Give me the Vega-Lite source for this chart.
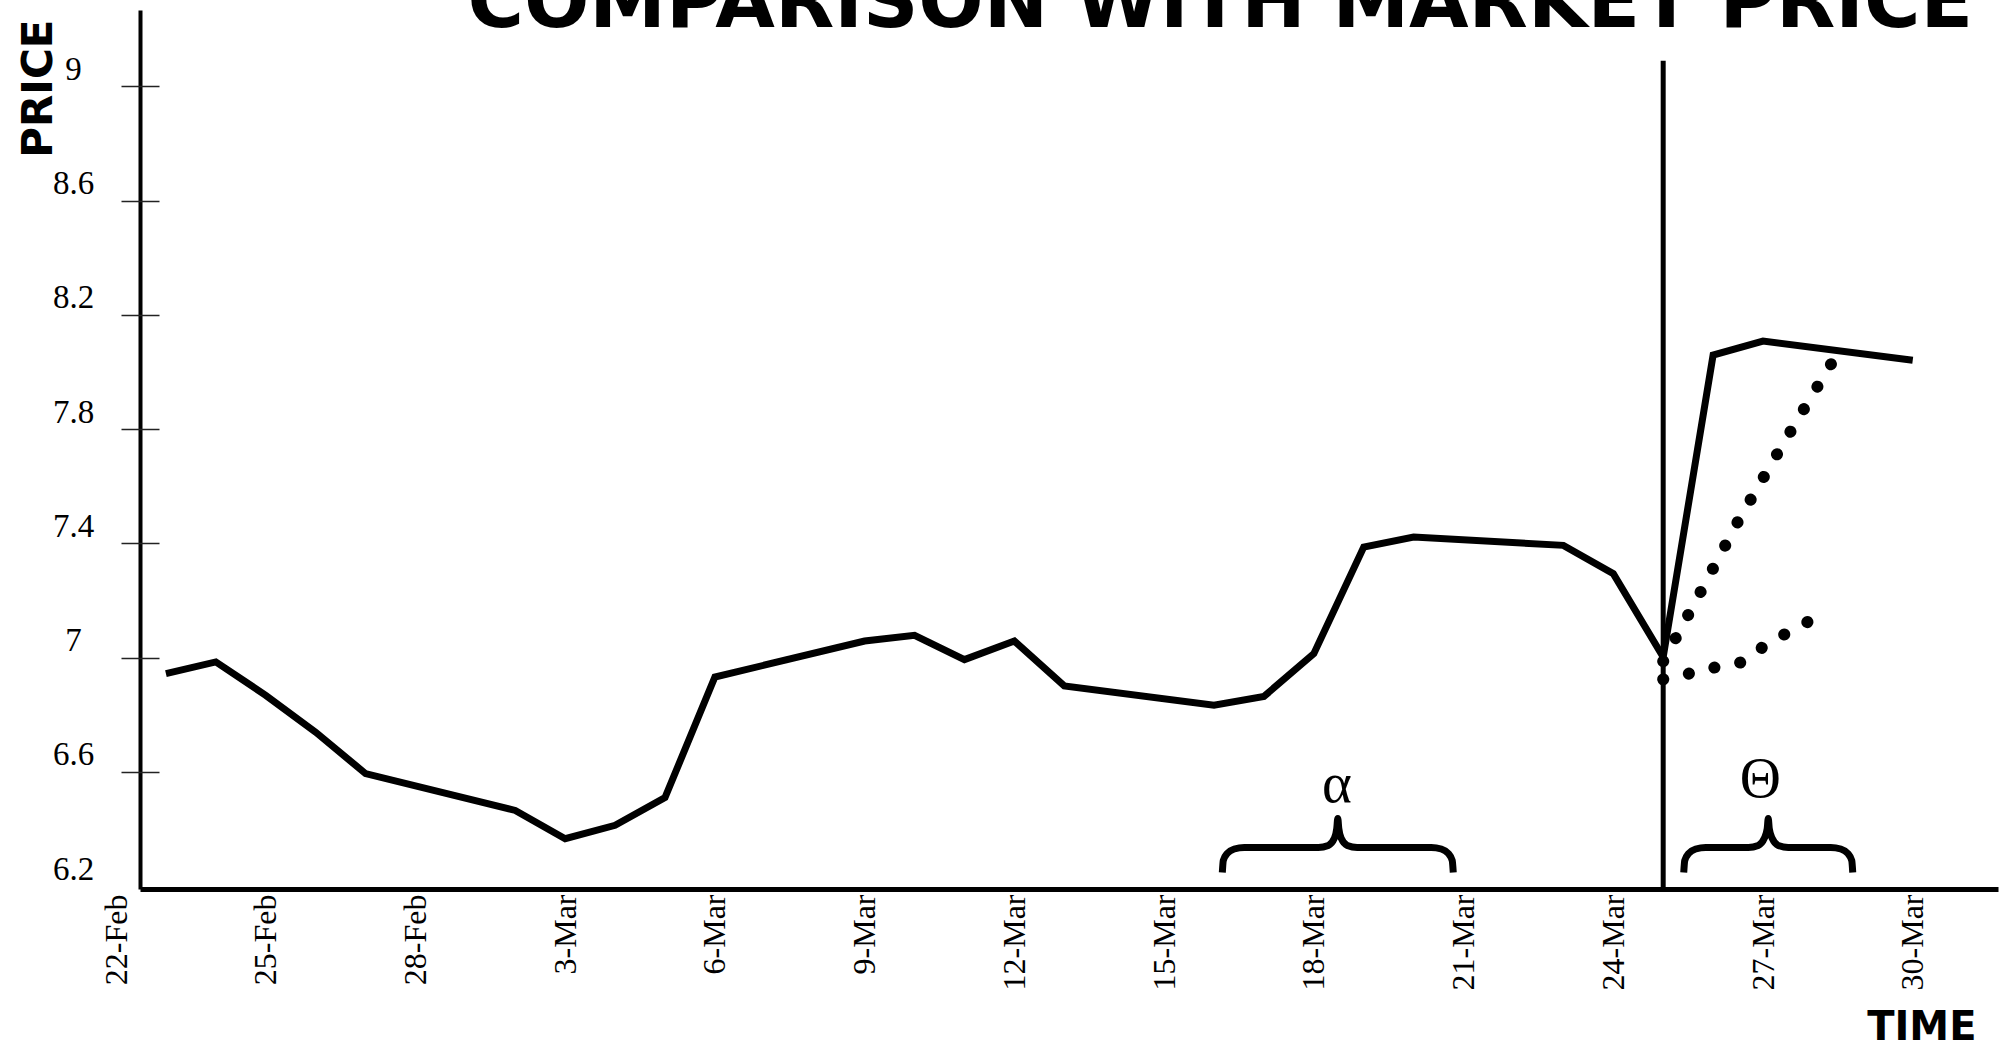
{
  "$schema": "https://vega.github.io/schema/vega-lite/v6.json",
  "width": 1882,
  "height": 879,
  "autosize": "none",
  "padding": {"left": 116, "top": 10, "right": 4, "bottom": 159},
  "background": "white",
  "config": {"view": {"stroke": null}, "axis": {"grid": false}},
  "title": {"text": "COMPARISON WITH MARKET PRICE", "anchor": "end", "frame": "group", "orient": "top", "offset": 0, "dx": -25, "dy": 94, "baseline": "alphabetic", "font": "DejaVu Sans", "fontWeight": "bold", "fontSize": 77, "color": "black"},
  "datasets": {
    "price": [
      {"date": "2009-02-23", "price": 6.944},
      {"date": "2009-02-24", "price": 6.985},
      {"date": "2009-02-25", "price": 6.868},
      {"date": "2009-02-26", "price": 6.739},
      {"date": "2009-02-27", "price": 6.594},
      {"date": "2009-03-02", "price": 6.465},
      {"date": "2009-03-03", "price": 6.366},
      {"date": "2009-03-04", "price": 6.413},
      {"date": "2009-03-05", "price": 6.51},
      {"date": "2009-03-06", "price": 6.932},
      {"date": "2009-03-09", "price": 7.058},
      {"date": "2009-03-10", "price": 7.078},
      {"date": "2009-03-11", "price": 6.993},
      {"date": "2009-03-12", "price": 7.058},
      {"date": "2009-03-13", "price": 6.901},
      {"date": "2009-03-16", "price": 6.833},
      {"date": "2009-03-17", "price": 6.864},
      {"date": "2009-03-18", "price": 7.014},
      {"date": "2009-03-19", "price": 7.387},
      {"date": "2009-03-20", "price": 7.422},
      {"date": "2009-03-23", "price": 7.393},
      {"date": "2009-03-24", "price": 7.294},
      {"date": "2009-03-25", "price": 7.002},
      {"date": "2009-03-26", "price": 8.059},
      {"date": "2009-03-27", "price": 8.108},
      {"date": "2009-03-30", "price": 8.041}
    ],
    "forecast": [
      {"series": "upper", "ord": 1, "date": "2009-03-25T00:00:00Z", "price": 6.987},
      {"series": "upper", "ord": 2, "date": "2009-03-25T18:00:00Z", "price": 7.23},
      {"series": "upper", "ord": 3, "date": "2009-03-26T12:00:00Z", "price": 7.477},
      {"series": "upper", "ord": 4, "date": "2009-03-27T06:00:00Z", "price": 7.703},
      {"series": "upper", "ord": 5, "date": "2009-03-27T20:00:00Z", "price": 7.874},
      {"series": "upper", "ord": 6, "date": "2009-03-28T08:40:00Z", "price": 8.027},
      {"series": "lower", "ord": 1, "date": "2009-03-25T00:00:00Z", "price": 6.924},
      {"series": "lower", "ord": 2, "date": "2009-03-25T13:00:00Z", "price": 6.945},
      {"series": "lower", "ord": 3, "date": "2009-03-26T01:00:00Z", "price": 6.966},
      {"series": "lower", "ord": 4, "date": "2009-03-26T14:00:00Z", "price": 6.984},
      {"series": "lower", "ord": 5, "date": "2009-03-27T02:00:00Z", "price": 7.048},
      {"series": "lower", "ord": 6, "date": "2009-03-27T14:00:00Z", "price": 7.096},
      {"series": "lower", "ord": 7, "date": "2009-03-28T01:40:00Z", "price": 7.141}
    ],
    "braces": [
      {"brace": "alpha", "ord": 1, "date": "2009-03-16T04:00:00Z", "price": 6.248},
      {"brace": "alpha", "ord": 2, "date": "2009-03-16T04:28:00Z", "price": 6.29},
      {"brace": "alpha", "ord": 3, "date": "2009-03-16T06:23:00Z", "price": 6.3145},
      {"brace": "alpha", "ord": 4, "date": "2009-03-16T09:45:00Z", "price": 6.33},
      {"brace": "alpha", "ord": 5, "date": "2009-03-16T14:34:00Z", "price": 6.3356},
      {"brace": "alpha", "ord": 6, "date": "2009-03-18T02:08:00Z", "price": 6.3356},
      {"brace": "alpha", "ord": 7, "date": "2009-03-18T06:58:00Z", "price": 6.3426},
      {"brace": "alpha", "ord": 8, "date": "2009-03-18T09:50:00Z", "price": 6.367},
      {"brace": "alpha", "ord": 9, "date": "2009-03-18T11:02:00Z", "price": 6.402},
      {"brace": "alpha", "ord": 10, "date": "2009-03-18T11:31:00Z", "price": 6.437},
      {"brace": "alpha", "ord": 11, "date": "2009-03-18T12:00:00Z", "price": 6.402},
      {"brace": "alpha", "ord": 12, "date": "2009-03-18T13:12:00Z", "price": 6.367},
      {"brace": "alpha", "ord": 13, "date": "2009-03-18T16:05:00Z", "price": 6.3426},
      {"brace": "alpha", "ord": 14, "date": "2009-03-18T20:53:00Z", "price": 6.3356},
      {"brace": "alpha", "ord": 15, "date": "2009-03-20T08:28:00Z", "price": 6.3356},
      {"brace": "alpha", "ord": 16, "date": "2009-03-20T13:16:00Z", "price": 6.33},
      {"brace": "alpha", "ord": 17, "date": "2009-03-20T16:38:00Z", "price": 6.3145},
      {"brace": "alpha", "ord": 18, "date": "2009-03-20T18:33:00Z", "price": 6.29},
      {"brace": "alpha", "ord": 19, "date": "2009-03-20T19:03:00Z", "price": 6.248},
      {"brace": "theta", "ord": 1, "date": "2009-03-25T09:53:00Z", "price": 6.248},
      {"brace": "theta", "ord": 2, "date": "2009-03-25T10:22:00Z", "price": 6.29},
      {"brace": "theta", "ord": 3, "date": "2009-03-25T12:17:00Z", "price": 6.3145},
      {"brace": "theta", "ord": 4, "date": "2009-03-25T15:40:00Z", "price": 6.33},
      {"brace": "theta", "ord": 5, "date": "2009-03-25T20:28:00Z", "price": 6.3356},
      {"brace": "theta", "ord": 6, "date": "2009-03-26T16:55:00Z", "price": 6.3356},
      {"brace": "theta", "ord": 7, "date": "2009-03-26T21:43:00Z", "price": 6.3426},
      {"brace": "theta", "ord": 8, "date": "2009-03-27T00:36:00Z", "price": 6.367},
      {"brace": "theta", "ord": 9, "date": "2009-03-27T02:02:00Z", "price": 6.402},
      {"brace": "theta", "ord": 10, "date": "2009-03-27T02:31:00Z", "price": 6.437},
      {"brace": "theta", "ord": 11, "date": "2009-03-27T03:00:00Z", "price": 6.402},
      {"brace": "theta", "ord": 12, "date": "2009-03-27T04:26:00Z", "price": 6.367},
      {"brace": "theta", "ord": 13, "date": "2009-03-27T07:19:00Z", "price": 6.3426},
      {"brace": "theta", "ord": 14, "date": "2009-03-27T12:09:00Z", "price": 6.3356},
      {"brace": "theta", "ord": 15, "date": "2009-03-28T08:34:00Z", "price": 6.3356},
      {"brace": "theta", "ord": 16, "date": "2009-03-28T13:23:00Z", "price": 6.33},
      {"brace": "theta", "ord": 17, "date": "2009-03-28T16:45:00Z", "price": 6.3145},
      {"brace": "theta", "ord": 18, "date": "2009-03-28T18:40:00Z", "price": 6.29},
      {"brace": "theta", "ord": 19, "date": "2009-03-28T19:09:00Z", "price": 6.248}
    ],
    "labels": [
      {"label": "α", "date": "2009-03-18T11:08:00Z", "price": 6.494},
      {"label": "Θ", "date": "2009-03-26T22:41:00Z", "price": 6.512}
    ],
    "divider": [
      {"date": "2009-03-25", "low": 6.19, "high": 9.089}
    ]
  },
  "resolve": {"scale": {"y": "independent"}},
  "layer": [
    {
      "layer": [
        {
          "data": {"name": "price"},
          "mark": {"type": "line", "color": "black", "strokeWidth": 7, "strokeJoin": "miter", "strokeCap": "butt"},
          "encoding": {
            "x": {
              "field": "date", "type": "temporal",
              "scale": {"type": "utc", "domain": [{"year": 2009, "month": 2, "date": 22, "utc": true}, {"year": 2009, "month": 3, "date": 31, "hours": 17, "utc": true}]},
              "axis": {
                "title": "TIME",
                "values": [
                  {"year": 2009, "month": 2, "date": 22, "utc": true},
                  {"year": 2009, "month": 2, "date": 25, "utc": true},
                  {"year": 2009, "month": 2, "date": 28, "utc": true},
                  {"year": 2009, "month": 3, "date": 3, "utc": true},
                  {"year": 2009, "month": 3, "date": 6, "utc": true},
                  {"year": 2009, "month": 3, "date": 9, "utc": true},
                  {"year": 2009, "month": 3, "date": 12, "utc": true},
                  {"year": 2009, "month": 3, "date": 15, "utc": true},
                  {"year": 2009, "month": 3, "date": 18, "utc": true},
                  {"year": 2009, "month": 3, "date": 21, "utc": true},
                  {"year": 2009, "month": 3, "date": 24, "utc": true},
                  {"year": 2009, "month": 3, "date": 27, "utc": true},
                  {"year": 2009, "month": 3, "date": 30, "utc": true}
                ],
                "format": "%-d-%b",
                "labelAngle": -90,
                "labelFont": "Liberation Serif",
                "labelFontSize": 32,
                "labelColor": "black",
                "labelPadding": 5,
                "labelFlush": false,
                "labelOverlap": false,
                "labelBound": false,
                "ticks": false,
                "tickSize": 0,
                "domainColor": "black",
                "domainWidth": 5,
                "domainDash": [0, 24, 2000, 0],
                "titleFont": "DejaVu Sans",
                "titleFontWeight": "bold",
                "titleFontSize": 40,
                "titleColor": "black",
                "titleX": 1860,
                "titleY": 150,
                "titleAlign": "right",
                "titleBaseline": "alphabetic",
                "titleAngle": 0
              }
            },
            "y": {
              "field": "price", "type": "quantitative",
              "scale": {"domain": [6.19, 9.267], "nice": false, "zero": false},
              "axis": {
                "title": "PRICE",
                "orient": "left",
                "offset": -24,
                "values": [6.2, 6.6, 7, 7.4, 7.8, 8.2, 8.6, 9],
                "format": "~g",
                "ticks": false,
                "tickSize": 0,
                "labelFont": "Liberation Serif",
                "labelFontSize": 33,
                "labelColor": "black",
                "labelAlign": "center",
                "labelBaseline": "middle",
                "labelOffset": -17,
                "labelPadding": 67,
                "labelOverlap": false,
                "labelFlush": false,
                "labelBound": false,
                "domainColor": "black",
                "domainWidth": 4,
                "titleFont": "DejaVu Sans",
                "titleFontWeight": "bold",
                "titleFontSize": 42,
                "titleColor": "black",
                "titleAngle": 270,
                "titleX": -89,
                "titleY": 9,
                "titleAlign": "right",
                "titleBaseline": "alphabetic"
              }
            }
          }
        },
        {
          "data": {"name": "forecast"},
          "mark": {"type": "line", "color": "black", "strokeWidth": 12, "strokeCap": "round", "strokeDash": [0.1, 26.15]},
          "encoding": {
            "x": {"field": "date", "type": "temporal", "scale": {"type": "utc", "domain": [{"year": 2009, "month": 2, "date": 22, "utc": true}, {"year": 2009, "month": 3, "date": 31, "hours": 17, "utc": true}]}},
            "y": {"field": "price", "type": "quantitative", "scale": {"domain": [6.19, 9.267], "nice": false, "zero": false}},
            "detail": {"field": "series"},
            "order": {"field": "ord", "type": "quantitative"}
          }
        },
        {
          "data": {"name": "braces"},
          "mark": {"type": "line", "color": "black", "strokeWidth": 7, "strokeCap": "butt", "interpolate": "monotone"},
          "encoding": {
            "x": {"field": "date", "type": "temporal", "scale": {"type": "utc", "domain": [{"year": 2009, "month": 2, "date": 22, "utc": true}, {"year": 2009, "month": 3, "date": 31, "hours": 17, "utc": true}]}},
            "y": {"field": "price", "type": "quantitative", "scale": {"domain": [6.19, 9.267], "nice": false, "zero": false}},
            "detail": {"field": "brace"},
            "order": {"field": "ord", "type": "quantitative"}
          }
        },
        {
          "data": {"name": "labels"},
          "mark": {"type": "text", "font": "Liberation Serif", "fontSize": 57, "align": "center", "baseline": "alphabetic", "color": "black"},
          "encoding": {
            "x": {"field": "date", "type": "temporal", "scale": {"type": "utc", "domain": [{"year": 2009, "month": 2, "date": 22, "utc": true}, {"year": 2009, "month": 3, "date": 31, "hours": 17, "utc": true}]}},
            "y": {"field": "price", "type": "quantitative", "scale": {"domain": [6.19, 9.267], "nice": false, "zero": false}},
            "text": {"field": "label"}
          }
        }
      ]
    },
    {
      "data": {"name": "divider"},
      "mark": {"type": "rule", "color": "black", "strokeWidth": 5},
      "encoding": {
        "x": {"field": "date", "type": "temporal", "scale": {"type": "utc", "domain": [{"year": 2009, "month": 2, "date": 22, "utc": true}, {"year": 2009, "month": 3, "date": 31, "hours": 17, "utc": true}]}},
        "y": {
          "field": "low", "type": "quantitative",
          "scale": {"domain": [6.19, 9.267], "nice": false, "zero": false},
          "axis": {
            "orient": "left",
            "offset": -43,
            "values": [6.6, 7, 7.4, 7.8, 8.2, 8.6, 9],
            "domain": false,
            "labels": false,
            "ticks": true,
            "tickSize": 38,
            "tickWidth": 1.5,
            "tickColor": "#222222",
            "title": null,
            "grid": false
          }
        },
        "y2": {"field": "high"}
      }
    }
  ]
}
